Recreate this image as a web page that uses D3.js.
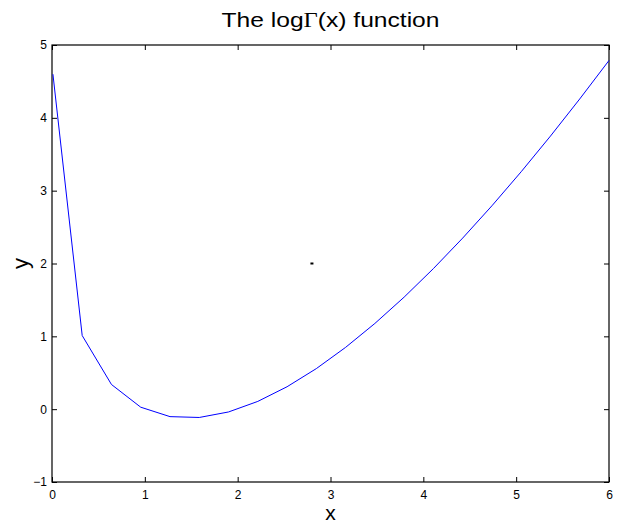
<!DOCTYPE html>
<html>
<head>
<meta charset="utf-8">
<script src="https://cdn.jsdelivr.net/npm/d3@7"></script>
<style>
  html, body { margin: 0; padding: 0; background: #fff; }
  svg { display: block; font-family: "Liberation Sans", Arial, Helvetica, sans-serif; }
</style>
</head>
<body>
<svg id="chart" width="621" height="525"></svg>
<script>
// Sample points of log Gamma(x) on [0.01, 6]
const xValues = [0.01, 0.3253, 0.6405, 0.9558, 1.2711, 1.5863, 1.9016, 2.2168, 2.5321, 2.8474,
                 3.1626, 3.4779, 3.7932, 4.1084, 4.4237, 4.7389, 5.0542, 5.3695, 5.6847, 6.0];
const yValues = [4.5995, 1.011, 0.3388, 0.0271, -0.1025, -0.1141, -0.0383, 0.1065, 0.3078, 0.557,
                 0.8486, 1.1767, 1.5383, 1.9299, 2.3488, 2.7926, 3.2601, 3.7495, 4.2591, 4.7875];
const xTicks = [0, 1, 2, 3, 4, 5, 6];
const yTicks = [-1, 0, 1, 2, 3, 4, 5];
// Stray marker placed in the axes
const markerPoint = [2.8, 2];

const svg = d3.select("#chart");
const plotLeft = 52, plotRight = 609, plotTop = 45, plotBottom = 482;

const x = d3.scaleLinear().domain([0, 6]).range([plotLeft, plotRight]);
const y = d3.scaleLinear().domain([-1, 5]).range([plotBottom, plotTop]);

const fmt = d => d < 0 ? "\u2212" + Math.abs(d) : String(d);

// Bottom axis
svg.append("g").attr("transform", `translate(0,${plotBottom})`)
  .call(d3.axisBottom(x).tickValues(xTicks).tickSizeInner(-5).tickSizeOuter(0).tickPadding(8).tickFormat(fmt))
  .call(g => g.select(".domain").remove());
// Top axis (ticks only)
svg.append("g").attr("transform", `translate(0,${plotTop})`)
  .call(d3.axisTop(x).tickValues(xTicks).tickSizeInner(-5).tickSizeOuter(0).tickFormat(""))
  .call(g => g.select(".domain").remove());
// Left axis
svg.append("g").attr("transform", `translate(${plotLeft},0)`)
  .call(d3.axisLeft(y).tickValues(yTicks).tickSizeInner(-5).tickSizeOuter(0).tickPadding(5).tickFormat(fmt))
  .call(g => g.select(".domain").remove());
// Right axis (ticks only)
svg.append("g").attr("transform", `translate(${plotRight},0)`)
  .call(d3.axisRight(y).tickValues(yTicks).tickSizeInner(-5).tickSizeOuter(0).tickFormat(""))
  .call(g => g.select(".domain").remove());

svg.selectAll(".tick text").attr("font-size", 12).attr("fill", "#000")
  .attr("font-family", "'Liberation Sans', Arial, sans-serif");
svg.selectAll(".tick line").attr("stroke", "#000");

// Box
svg.append("rect")
  .attr("x", plotLeft).attr("y", plotTop)
  .attr("width", plotRight - plotLeft).attr("height", plotBottom - plotTop)
  .attr("fill", "none").attr("stroke", "#000").attr("stroke-width", 1.2);

// Curve
const line = d3.line().x((d, i) => x(xValues[i])).y(d => y(d));
svg.append("path")
  .datum(yValues)
  .attr("d", line)
  .attr("fill", "none")
  .attr("stroke", "#0000ff")
  .attr("stroke-width", 1);

// Small marker
svg.append("rect")
  .attr("x", x(markerPoint[0]) - 1.5)
  .attr("y", y(markerPoint[1]) - 1)
  .attr("width", 3).attr("height", 2)
  .attr("fill", "#000");

// Title with a serif Gamma
const title = svg.append("text")
  .attr("x", (plotLeft + plotRight) / 2).attr("y", 27)
  .attr("text-anchor", "middle").attr("font-size", 21)
  .attr("textLength", 218).attr("lengthAdjust", "spacingAndGlyphs");
title.append("tspan").text("The log");
title.append("tspan").attr("font-family", "'Liberation Serif', 'Times New Roman', serif").text("\u0393");
title.append("tspan").text("(x) function");

svg.append("text")
  .attr("x", (plotLeft + plotRight) / 2).attr("y", 520)
  .attr("text-anchor", "middle").attr("font-size", 21)
  .text("x");

svg.append("text")
  .attr("transform", `translate(28,${(plotTop + plotBottom) / 2}) rotate(-90)`)
  .attr("text-anchor", "middle").attr("font-size", 22)
  .text("y");
</script>
</body>
</html>
